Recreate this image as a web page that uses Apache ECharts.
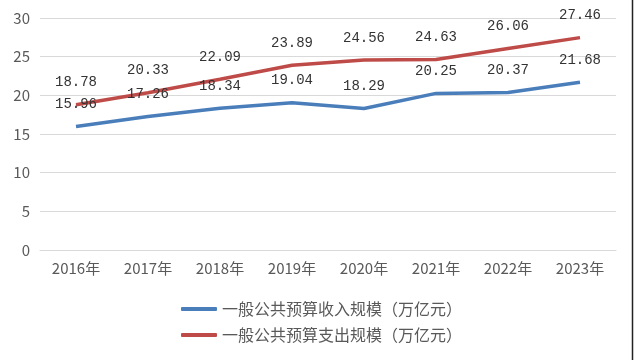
<!DOCTYPE html>
<html><head><meta charset="utf-8">
<script src="https://cdn.jsdelivr.net/npm/echarts@6/dist/echarts.min.js"></script>
<style>html,body{margin:0;padding:0;background:#fff}#c{width:634px;height:360px}</style>
</head><body><div id="c"></div>
<script>
const categories = ['2016年','2017年','2018年','2019年','2020年','2021年','2022年','2023年'];
const revenue = [15.96, 17.26, 18.34, 19.04, 18.29, 20.25, 20.37, 21.68];
const expenditure = [18.78, 20.33, 22.09, 23.89, 24.56, 24.63, 26.06, 27.46];
const yTicks = [0, 5, 10, 15, 20, 25, 30];
const seriesNames = ['一般公共预算收入规模（万亿元）', '一般公共预算支出规模（万亿元）'];

const chart = echarts.init(document.getElementById('c'));
const labelStyle = {show: true, position: 'top', distance: 15, color: '#333', fontSize: 14, fontFamily: 'Liberation Mono, DejaVu Sans Mono, monospace'};
chart.setOption({
  animation: false,
  grid: {left: 40, right: 18, top: 18, bottom: 110, containLabel: false},
  xAxis: {
    type: 'category', data: categories, boundaryGap: true,
    axisLine: {show: true, lineStyle: {color: '#d9d9d9', width: 1}},
    axisTick: {show: false},
    axisLabel: {color: '#595959', fontSize: 15, margin: 11, fontFamily: 'Noto Sans CJK SC'}
  },
  yAxis: {
    type: 'value', min: yTicks[0], max: yTicks[yTicks.length-1], interval: 5,
    axisLine: {show: false}, axisTick: {show: false},
    splitLine: {lineStyle: {color: '#d9d9d9', width: 1}},
    axisLabel: {color: '#595959', fontSize: 15, margin: 10, fontFamily: 'Noto Sans CJK SC'}
  },
  legend: {
    orient: 'vertical', left: 176, top: 293, itemWidth: 36, itemHeight: 4, itemGap: 4, itemSymbolGap: 6,
    icon: 'roundRect',
    textStyle: {color: '#595959', fontSize: 16, lineHeight: 22, fontFamily: 'Noto Sans CJK SC'},
    data: seriesNames
  },
  graphic: [{type: 'line', shape: {x1: 632.5, y1: 0, x2: 632.5, y2: 360}, style: {stroke: '#222', lineWidth: 1.5}}],
  series: [
    {name: seriesNames[0], type: 'line', data: revenue, symbol: 'circle', symbolSize: 0.01, showSymbol: true,
     lineStyle: {color: '#4a7ebb', width: 3.5}, itemStyle: {color: '#4a7ebb'}, label: labelStyle},
    {name: seriesNames[1], type: 'line', data: expenditure, symbol: 'circle', symbolSize: 0.01, showSymbol: true,
     lineStyle: {color: '#be4b48', width: 3.5}, itemStyle: {color: '#be4b48'}, label: labelStyle}
  ]
});
</script></body></html>
